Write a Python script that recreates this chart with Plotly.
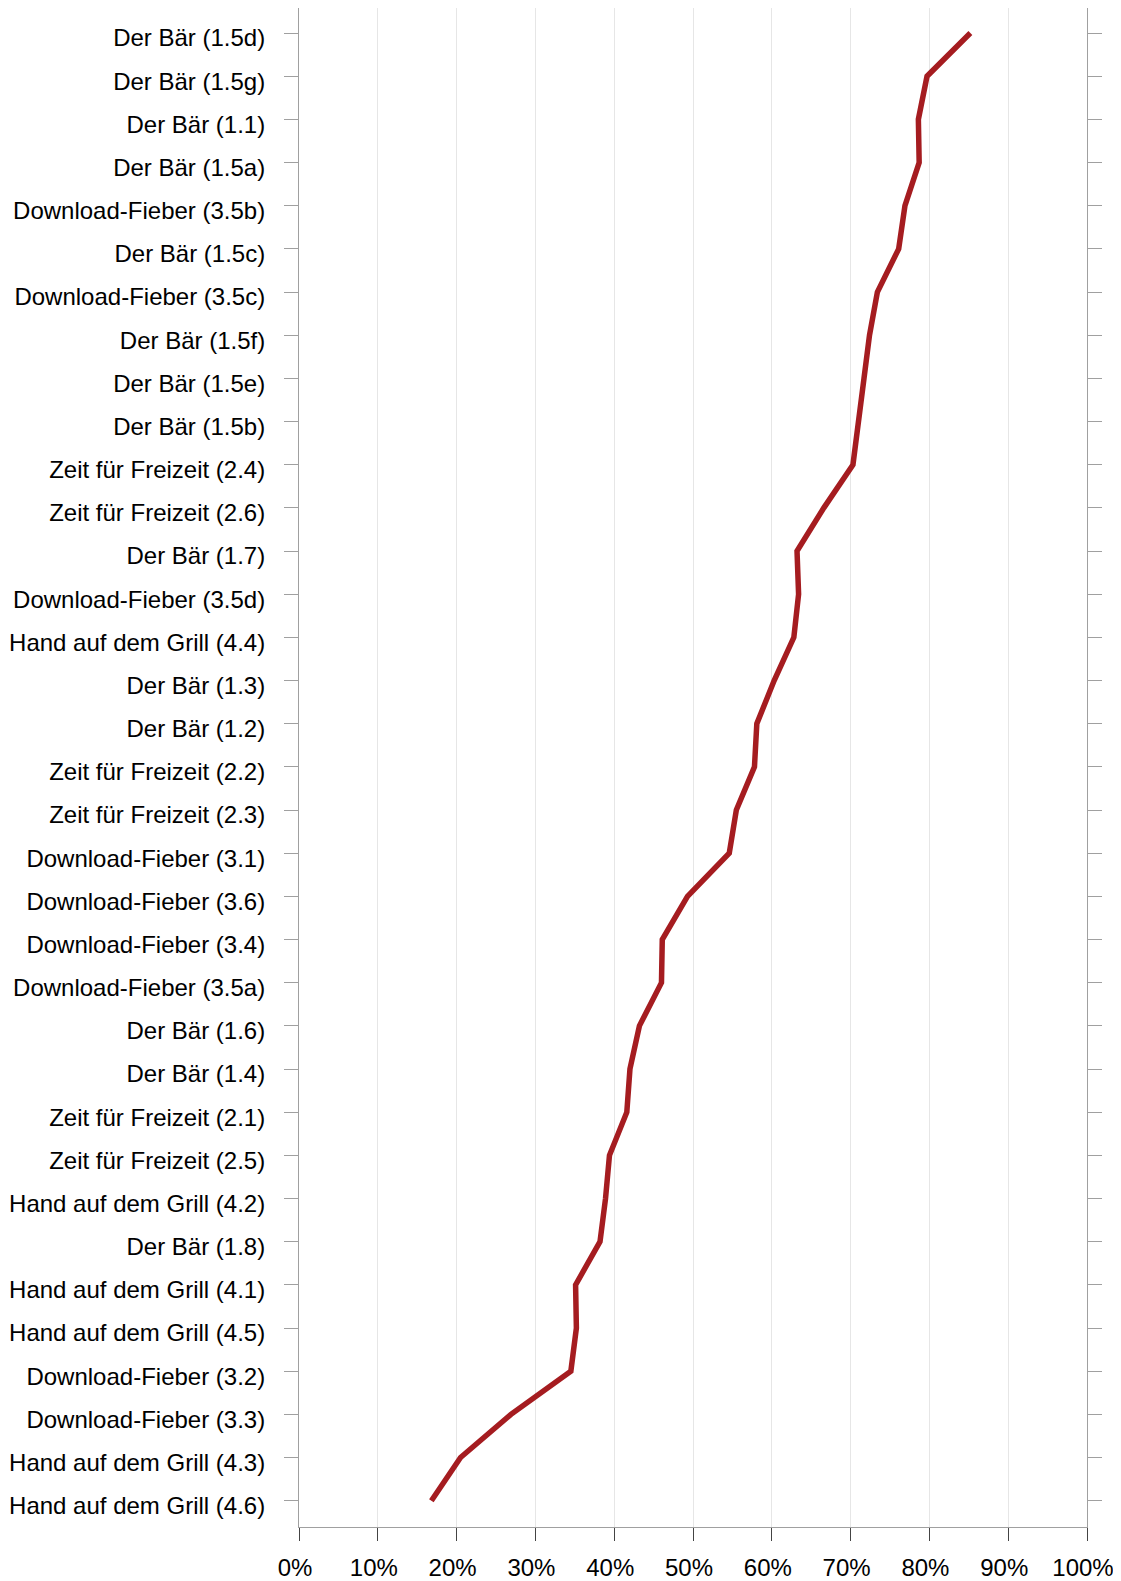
import plotly.graph_objects as go

# categories listed top to bottom, as in the chart
items = [
    'Der Bär (1.5d)', 'Der Bär (1.5g)', 'Der Bär (1.1)', 'Der Bär (1.5a)',
    'Download-Fieber (3.5b)', 'Der Bär (1.5c)', 'Download-Fieber (3.5c)',
    'Der Bär (1.5f)', 'Der Bär (1.5e)', 'Der Bär (1.5b)',
    'Zeit für Freizeit (2.4)', 'Zeit für Freizeit (2.6)', 'Der Bär (1.7)',
    'Download-Fieber (3.5d)', 'Hand auf dem Grill (4.4)', 'Der Bär (1.3)',
    'Der Bär (1.2)', 'Zeit für Freizeit (2.2)', 'Zeit für Freizeit (2.3)',
    'Download-Fieber (3.1)', 'Download-Fieber (3.6)', 'Download-Fieber (3.4)',
    'Download-Fieber (3.5a)', 'Der Bär (1.6)', 'Der Bär (1.4)',
    'Zeit für Freizeit (2.1)', 'Zeit für Freizeit (2.5)',
    'Hand auf dem Grill (4.2)', 'Der Bär (1.8)', 'Hand auf dem Grill (4.1)',
    'Hand auf dem Grill (4.5)', 'Download-Fieber (3.2)',
    'Download-Fieber (3.3)', 'Hand auf dem Grill (4.3)',
    'Hand auf dem Grill (4.6)',
]

solved = [
    85.2, 79.7, 78.6, 78.7, 76.9, 76.1, 73.4,
    72.4, 71.7, 71.0, 70.3, 66.6, 63.2, 63.4, 62.8, 60.3,
    58.1, 57.8, 55.5, 54.6, 49.3, 46.1, 46.0, 43.2, 42.0,
    41.6, 39.4, 38.9, 38.2, 35.1, 35.2, 34.5, 26.9, 20.5, 16.8,
]

x_ticks = list(range(0, 101, 10))
x_labels = [f'{v}%' for v in x_ticks]

fig = go.Figure(go.Scatter(
    x=solved, y=items, mode='lines',
    line=dict(color='#A51C20', width=5.5),
    showlegend=False,
))

# the page body adds 8px on the left/top, so the figure is 8px smaller
fig.update_layout(
    width=1113, height=1573,
    margin=dict(l=291, r=34, t=0, b=54),
    paper_bgcolor='white', plot_bgcolor='white',
    font=dict(family='Liberation Sans, Arial, sans-serif', size=24, color='black'),
)

fig.update_xaxes(
    range=[0, 100], tickvals=x_ticks, ticktext=x_labels,
    showgrid=True, gridcolor='#E6E6E6', gridwidth=1,
    showline=True, linecolor='#A0A0A0', linewidth=1, mirror=True,
    ticks='outside', ticklen=13, tickcolor='#444444', tickwidth=1,
    ticklabelstandoff=6, ticklabelshift=-4, zeroline=False, automargin=False,
)

fig.update_yaxes(
    type='category', categoryorder='array', categoryarray=items,
    range=[34.61, -0.58],
    showgrid=False,
    showline=True, linecolor='#A0A0A0', linewidth=1, mirror='ticks',
    ticks='outside', ticklen=14, tickcolor='#A0A0A0', tickwidth=1,
    ticklabelstandoff=14, ticklabelshift=-5, automargin=False,
)

fig.write_html('out.html')
